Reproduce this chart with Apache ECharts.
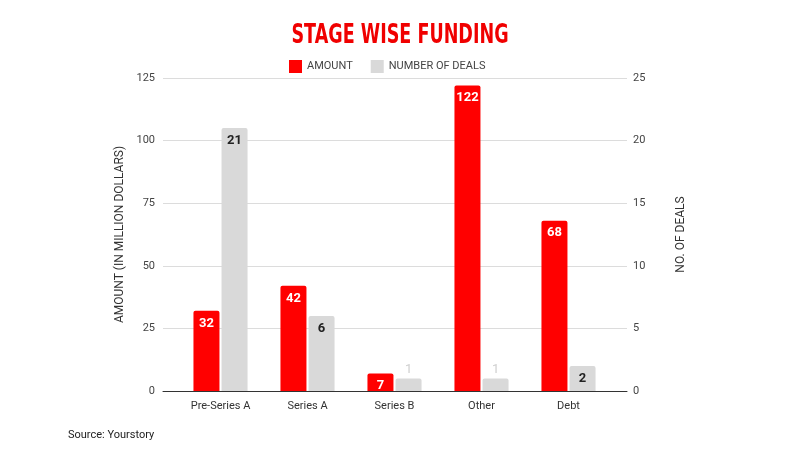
<!DOCTYPE html>
<html><head><meta charset="utf-8">
<script src="https://cdn.jsdelivr.net/npm/echarts@6/dist/echarts.min.js"></script>
<style>html,body{margin:0;padding:0;background:#fff}#c{width:800px;height:450px}</style>
</head><body><div id="c"></div>
<script>
const categories = ['Pre-Series A', 'Series A', 'Series B', 'Other', 'Debt'];
const amount = [32, 42, 7, 122, 68];
const deals = [21, 6, 1, 1, 2];
const leftTicks = {min: 0, max: 125, interval: 25};
const rightTicks = {min: 0, max: 25, interval: 5};

const chart = echarts.init(document.getElementById('c'), null, {renderer: 'canvas'});
const font = 'Roboto, "Liberation Sans", Arial, sans-serif';
const dealsData = deals.map(v => v <= 1
  ? {value: v, label: {position: 'top', color: '#cfcfcf', fontWeight: 'normal', distance: 2}}
  : {value: v});
chart.setOption({
  animation: false,
  legend: {
    top: 55, left: 284, itemWidth: 13, itemHeight: 13, itemGap: 18,
    icon: 'rect',
    textStyle: {color: '#444', fontSize: 11, fontFamily: font},
    data: ['AMOUNT', 'NUMBER OF DEALS']
  },
  grid: [
    {left: 163, right: 173, top: 78, bottom: 59},
    {left: 177, right: 188, top: 78, bottom: 59}
  ],
  xAxis: [
    {type: 'category', gridIndex: 0, data: categories, axisLine: {show: true, lineStyle: {color: '#333', width: 1}},
     axisTick: {show: false}, axisLabel: {show: false}},
    {type: 'category', gridIndex: 1, data: categories, axisLine: {show: false}, axisTick: {show: false},
     axisLabel: {color: '#333', fontSize: 11, fontFamily: font, margin: 10}}
  ],
  yAxis: [
    {type: 'value', gridIndex: 0, position: 'left', min: leftTicks.min, max: leftTicks.max, interval: leftTicks.interval,
     name: 'AMOUNT (IN MILLION DOLLARS)', nameLocation: 'middle', nameGap: 36,
     nameTextStyle: {color: '#333', fontSize: 12, fontFamily: font},
     axisLine: {show: false}, axisTick: {show: false},
     axisLabel: {color: '#444', fontSize: 11, fontFamily: font, margin: 8},
     splitLine: {lineStyle: {color: '#dcdcdc', width: 1}}},
    {type: 'value', gridIndex: 0, position: 'right', min: rightTicks.min, max: rightTicks.max, interval: rightTicks.interval,
     name: 'NO. OF DEALS', nameLocation: 'middle', nameGap: 48, nameRotate: 90,
     nameTextStyle: {color: '#333', fontSize: 12, fontFamily: font},
     axisLine: {show: false}, axisTick: {show: false},
     axisLabel: {color: '#444', fontSize: 11, fontFamily: font, margin: 6},
     splitLine: {show: false}},
    {type: 'value', gridIndex: 1, min: leftTicks.min, max: leftTicks.max, show: false},
    {type: 'value', gridIndex: 1, min: rightTicks.min, max: rightTicks.max, show: false}
  ],
  series: [
    {name: 'AMOUNT', type: 'bar', xAxisIndex: 1, yAxisIndex: 2, data: amount,
     barWidth: 26, barGap: '8%',
     itemStyle: {color: '#ff0000', borderRadius: [2, 2, 0, 0]},
     label: {show: true, position: 'insideTop', distance: 6, color: '#fff', fontWeight: 'bold', fontSize: 13, fontFamily: font}},
    {name: 'NUMBER OF DEALS', type: 'bar', xAxisIndex: 1, yAxisIndex: 3, data: dealsData,
     barWidth: 26,
     itemStyle: {color: '#d9d9d9', borderRadius: [2, 2, 0, 0]},
     label: {show: true, position: 'insideTop', distance: 6, color: '#222', fontWeight: 'bold', fontSize: 13, fontFamily: font}}
  ],
  graphic: [
    {type: 'text', x: 400, y: 22, scaleX: 0.65,
     style: {text: 'STAGE WISE FUNDING', textAlign: 'center', textVerticalAlign: 'top', fill: '#f00000',
             fontSize: 27, fontWeight: 'bold', fontFamily: '"DejaVu Sans", sans-serif'}},
    {type: 'text', left: 68, top: 430, style: {text: 'Source: Yourstory', fill: '#222', fontSize: 11, fontFamily: font}}
  ]
});
</script></body></html>
